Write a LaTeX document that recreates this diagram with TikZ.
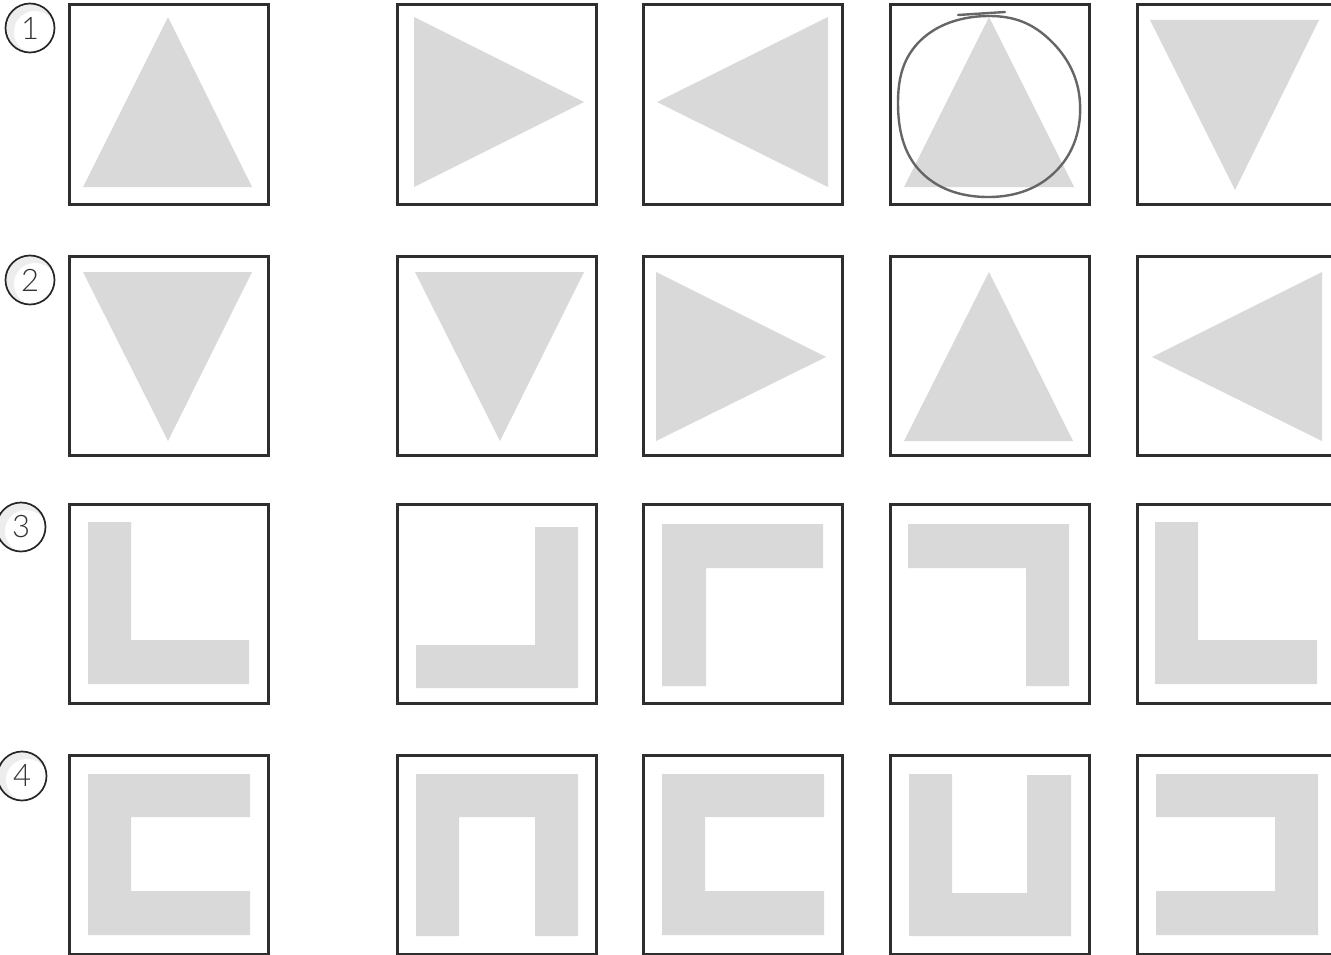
\documentclass[tikz,border=0pt]{standalone}
\usepackage{fontspec}
\setmainfont{Lato}
\newfontfamily\numfont{Lato Light}
\tikzset{pane/.style={draw=black!82,line width=3pt},
  glyph/.style={fill=black!15,draw=none},
  tag/.style={circle,draw=black!85,line width=1.7pt,minimum size=49pt,inner sep=0pt,
    font=\numfont\fontsize{31}{31}\selectfont,text=black!80,
    path picture={\fill[black!7] (path picture bounding box.center) circle(25pt);
      \fill[white] ([shift={(5pt,-4pt)}]path picture bounding box.center) circle(21pt);}},
  scribble/.style={draw=black!60,line width=2.4pt,line cap=round}}
\newcommand{\tri}[3]{\fill[glyph] #1 -- #2 -- #3 -- cycle;}

\begin{document}
\begin{tikzpicture}[x=1pt,y=-1pt]
\useasboundingbox (0,0) rectangle (1331,955);
\clip (0,0) rectangle (1331,955);
\fill[white] (0,0) rectangle (1331,955);
% row 1: triangles
\tri{(168,17)}{(83,187)}{(252,187)}
\tri{(414,17)}{(414,187)}{(584,102)}
\tri{(828,17)}{(828,187)}{(657,102)}
\tri{(989,17)}{(904,187)}{(1074,187)}
\tri{(1150,20)}{(1319,20)}{(1235,190)}
% row 2
\tri{(83,272)}{(252,272)}{(168,441)}
\tri{(415,272)}{(584,272)}{(500,441)}
\tri{(656,272)}{(656,441)}{(826,357)}
\tri{(989,272)}{(904,441)}{(1073,441)}
\tri{(1322,272)}{(1322,441)}{(1152,357)}
% row 3: corners
\fill[glyph] (88,522) -- (131,522) -- (131,640) -- (249,640) -- (249,684) -- (88,684) -- cycle;
\fill[glyph] (535,527) -- (578,527) -- (578,688) -- (416,688) -- (416,645) -- (535,645) -- cycle;
\fill[glyph] (662,524) -- (823,524) -- (823,568) -- (706,568) -- (706,686) -- (662,686) -- cycle;
\fill[glyph] (908,524) -- (1069,524) -- (1069,686) -- (1026,686) -- (1026,568) -- (908,568) -- cycle;
\fill[glyph] (1155,522) -- (1198,522) -- (1198,640) -- (1317,640) -- (1317,684) -- (1155,684) -- cycle;
% row 4: brackets
\fill[glyph] (88,774) -- (250,774) -- (250,817) -- (131,817) -- (131,891) -- (250,891) -- (250,935) -- (88,935) -- cycle;
\fill[glyph] (416,774) -- (578,774) -- (578,936) -- (535,936) -- (535,817) -- (459,817) -- (459,936) -- (416,936) -- cycle;
\fill[glyph] (662,774) -- (824,774) -- (824,817) -- (705,817) -- (705,891) -- (824,891) -- (824,935) -- (662,935) -- cycle;
\fill[glyph] (909,774) -- (952,774) -- (952,893) -- (1027,893) -- (1027,775) -- (1071,775) -- (1071,936) -- (909,936) -- cycle;
\fill[glyph] (1156,774) -- (1318,774) -- (1318,935) -- (1156,935) -- (1156,891) -- (1275,891) -- (1275,817) -- (1156,817) -- cycle;
% frames
\foreach \y in {5,256,504,755}
  \foreach \x in {69,397,643,890,1137}
    \draw[pane] (\x,\y) rectangle ++(199,199);
% hand drawn ring
\draw[scribble] plot[smooth cycle,tension=.7] coordinates {(989,16) (1050,40) (1080,103) (1057,170) (990,197) (921,172) (898,103) (921,40)};
\draw[scribble] (958,15) -- (1005,12);
% row numbers
\node[tag] (n1) at (30,28) {1};
\node[tag] (n2) at (30,280) {2};
\node[tag] (n3) at (21,527) {3};
\node[tag] (n4) at (22,776) {4};
\end{tikzpicture}
\end{document}
